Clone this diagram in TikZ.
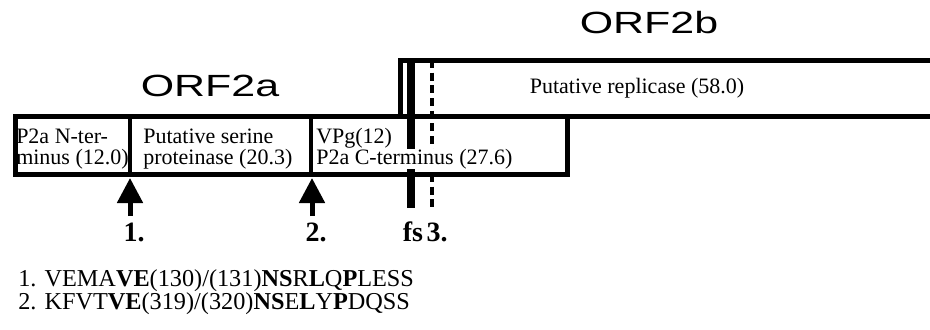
\documentclass[tikz,border=0pt]{standalone}
\usepackage{fontspec}
\setmainfont{Liberation Serif}
\newfontfamily\orffont{Liberation Sans}
\usetikzlibrary{arrows.meta}
\begin{document}
\begin{tikzpicture}[x=0.75pt,y=-0.75pt,
  box/.style={draw, line width=3.75pt, inner sep=0pt, outer sep=0pt},
  lbl/.style={font=\fontsize{16.5}{16.5}\selectfont, inner sep=0pt, anchor=base west},
  seq/.style={font=\fontsize{18.2}{18.2}\selectfont, inner sep=0pt, anchor=base west},
  orf/.style={font=\orffont\fontsize{23}{23}\selectfont, inner sep=0pt, xscale=1.4},
  num/.style={font=\bfseries\fontsize{21}{21}\selectfont, inner sep=0pt, anchor=base},
  cut/.style={line width=3.75pt, -{Triangle[width=18.75pt,length=18.75pt]}},
  divider/.style={line width=3pt},
  fsbar/.style={line width=6pt},
  sitedash/.style={line width=2.6pt, dash pattern=on 6pt off 3.5pt},
]
\useasboundingbox (0,0) rectangle (930,329);
% ORF labels
\node[orf] (orf2b) at (649,23) {ORF2b};
\node[orf] (orf2a) at (210,86) {ORF2a};
% frameshift and site 3 lines (behind text)
\coordinate (fstop) at (411,60);
\coordinate (fsbot) at (411,208);
\coordinate (s3top) at (432,60);
\coordinate (s3bot) at (432,210);
% boxes
\node[box, minimum width=401.25pt, minimum height=42pt] (rep) at (667.5,88) {};
\node[box, minimum width=414pt, minimum height=43.5pt] (p2a) at (291,145) {};
\draw[fsbar] (fstop) -- (fsbot);
\draw[sitedash] (s3top) -- (s3bot);
\draw[divider] (130,116) -- (130,174);
\draw[divider] (311,116) -- (311,174);
% box texts
\node[font=\fontsize{16.5}{16.5}\selectfont, inner sep=0pt] (reptxt) at (637,88) {Putative replicase (58.0)};
\node[lbl] (n1) at (16,143) {P2a N-ter-};
\node[lbl] (n2) at (16,164) {minus (12.0)};
\node[lbl] (s1) at (143,143) {Putative serine};
\node[lbl] (s2) at (143,164) {proteinase (20.3)};
\node[lbl] (c1) at (316,143) {VPg(12)};
\node[lbl, fill=white] (c2) at (316,164) {P2a C-terminus (27.6)};
% cleavage arrows
\node[num] (l1) at (134,241) {1.};
\node[num] (l2) at (316,241) {2.};
\node[num] (lfs) at (413,241) {fs};
\node[num] (l3) at (437,241) {3.};
\coordinate (a1s) at (130,216);
\coordinate (a1t) at (130,178);
\coordinate (a2s) at (312,216);
\coordinate (a2t) at (312,178);
\draw[cut] (a1s) -- (a1t);
\draw[cut] (a2s) -- (a2t);
% sequences
\node[seq] (seq1) at (18,286) {1. VEMA\textbf{VE}(130)/(131)\textbf{NS}R\textbf{L}Q\textbf{P}LESS};
\node[seq] (seq2) at (18,309) {2. KFVT\textbf{VE}(319)/(320)\textbf{NS}E\textbf{L}Y\textbf{P}DQSS};
\end{tikzpicture}
\end{document}
